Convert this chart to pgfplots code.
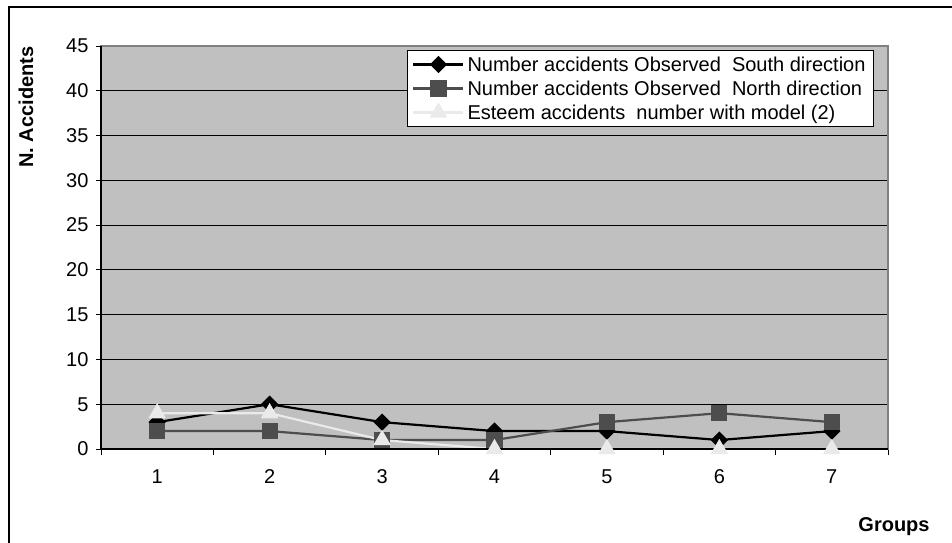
\documentclass[border=0pt]{standalone}
\usepackage{fontspec}
\setmainfont{Liberation Sans}
\usepackage{pgfplots}
\pgfplotsset{compat=1.18}
\definecolor{plotbg}{HTML}{C0C0C0}
\definecolor{frameGray}{HTML}{808080}
\definecolor{northGray}{HTML}{4D4D4D}
\definecolor{modelGray}{HTML}{EAEAEA}

\begin{document}
\begin{tikzpicture}[x=1pt,y=1pt]
\useasboundingbox (0,0) rectangle (952,542);
% outer chart frame
\draw[line width=1.5pt] (9,-5) -- (9,535) -- (960,535);
\begin{axis}[
  at={(101pt,93pt)}, anchor=south west,
  scale only axis, width=787pt, height=403pt,
  xmin=0.5, xmax=7.5, ymin=0, ymax=45,
  clip=false,
  xtick={1,...,7},
  minor xtick={0.5,1.5,...,7.5},
  ytick={0,5,...,45},
  tick pos=left,
  tick align=outside,
  major tick length=5pt,
  minor tick length=6pt,
  major x tick style={draw=none},
  every tick/.style={black, line width=1pt},
  ymajorgrids,
  grid style={black, line width=0.8pt},
  axis background/.style={fill=plotbg},
  axis line style={frameGray, line width=1.5pt},
  /pgf/number format/assume math mode=true,
  ticklabel style={font=\fontsize{20}{20}\selectfont},
  yticklabel style={xshift=-4pt},
  xticklabel style={yshift=-12pt},
  legend cell align=left,
  legend style={at={(0.9822,0.990)}, anchor=north east, draw=black,
    line width=1pt, fill=white, font=\fontsize{20}{22}\selectfont,
    row sep=8pt, inner xsep=5pt, inner ysep=6pt,
    nodes={inner xsep=3pt, inner ysep=0pt}},
  legend image code/.code={%
    \draw[mark repeat=2,mark phase=2,#1] plot coordinates {(0pt,0pt) (25pt,0pt) (50pt,0pt)};},
]
\addplot[black, line width=2.2pt, mark=square*, mark size=5pt,
  mark options={rotate=45, solid, fill=black}]
  coordinates {(1,3) (2,5) (3,3) (4,2) (5,2) (6,1) (7,2)};
\addlegendentry{Number accidents Observed\ \ South direction}
\addplot[northGray, line width=2.2pt, mark=square*, mark size=7pt,
  mark options={solid, fill=northGray}]
  coordinates {(1,2) (2,2) (3,1) (4,1) (5,3) (6,4) (7,3)};
\addlegendentry{Number accidents Observed\ \ North direction}
\addplot[modelGray, line width=2.2pt, mark=triangle*, mark size=8pt,
  mark options={solid, fill=modelGray}]
  coordinates {(1,4) (2,4) (3,1) (4,0) (5,0) (6,0) (7,0)};
\addlegendentry{Esteem accidents\ \ number with model (2)}
% plot-area edges: gray top/right, black left/bottom
\draw[frameGray, line width=1.5pt] (rel axis cs:0,1) -- (rel axis cs:1,1) -- (rel axis cs:1,0);
\draw[black, line width=1.5pt] (rel axis cs:0,1) -- (rel axis cs:0,0) -- (rel axis cs:1,0);
\end{axis}
\node[rotate=90, font=\bfseries\fontsize{20}{20}\selectfont] at (26,435) {N. Accidents};
\node[font=\bfseries\fontsize{20}{20}\selectfont] at (894,15) {Groups};
\end{tikzpicture}
\end{document}
